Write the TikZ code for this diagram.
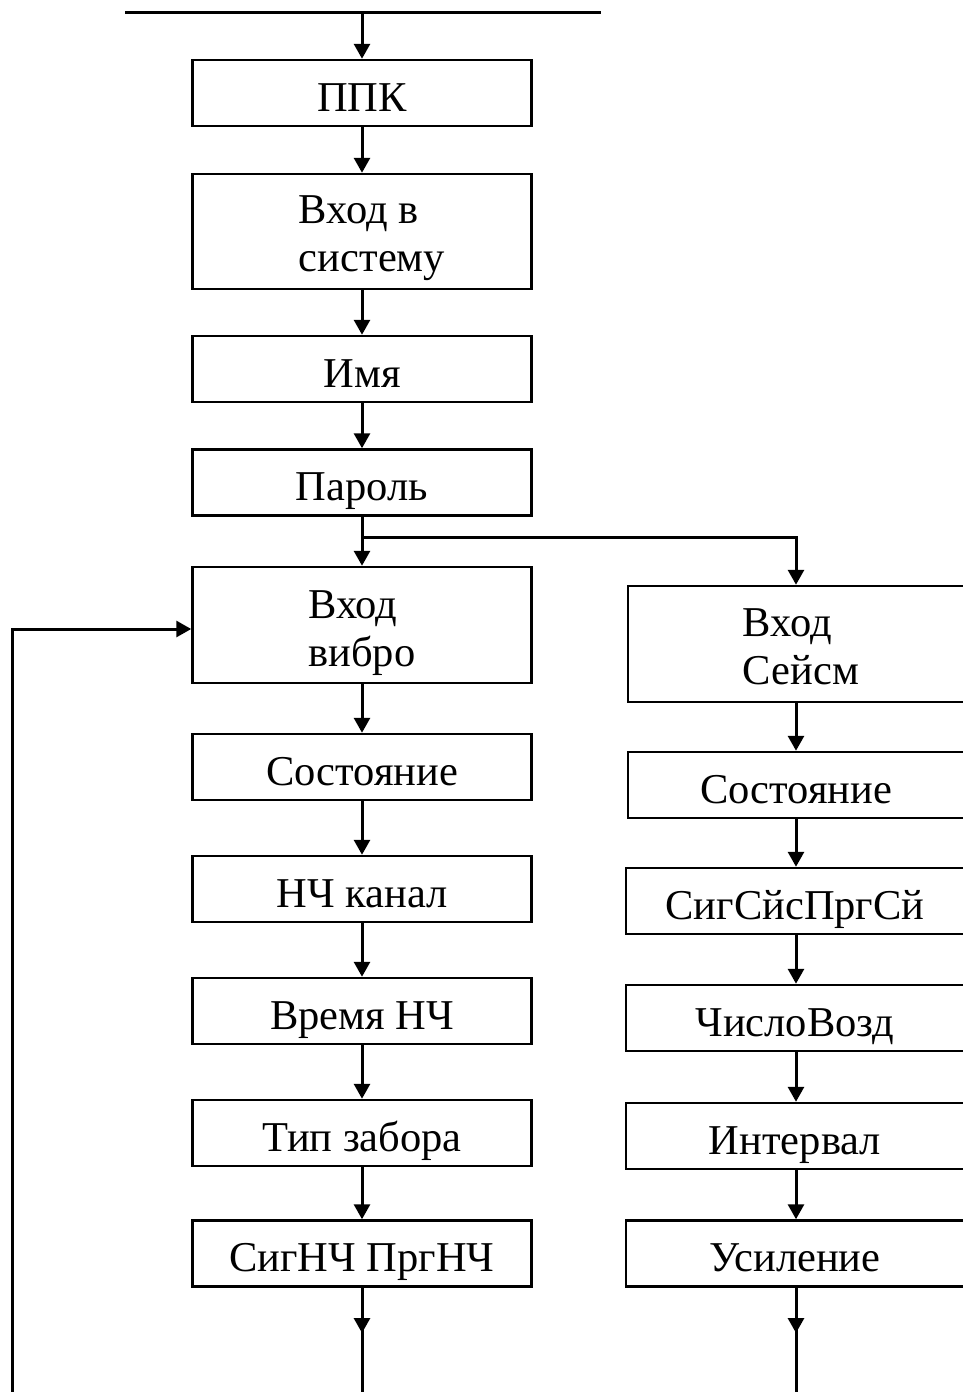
\documentclass[tikz,border=0pt]{standalone}
\usepackage{fontspec}
\setmainfont{Liberation Serif}
\usetikzlibrary{arrows.meta}
\begin{document}
\begin{tikzpicture}[x=1pt,y=-1pt,
  box/.style={draw, line width=2.5pt, inner sep=0pt,
    font=\fontsize{42.5}{48}\selectfont, text height=36pt, text depth=0pt},
  lbox/.style={box, minimum width=339pt, minimum height=66pt},
  rbox/.style={box, minimum width=338pt, minimum height=66pt},
  conn/.style={line width=3pt},
  arr/.style={conn, -{Triangle[length=15pt,width=16pt]}}]
\useasboundingbox (0,0) rectangle (962,1392);
% left column
\node[lbox] (ppk) at (362,93) {ППК};
\node[lbox, minimum height=115pt, text height=79pt] (login) at (362,231.5)
  {\hspace*{20pt}\begin{tabular}[b]{@{}l@{}}Вход в\\ систему\end{tabular}};
\node[lbox] (name) at (362,369) {Имя};
\node[lbox] (pass) at (362,482.5) {Пароль};
\node[lbox, minimum height=116pt, text height=82pt] (vibro) at (362,625)
  {\begin{tabular}[b]{@{}l@{}}Вход\\ вибро\end{tabular}};
\node[lbox] (st1) at (362,767) {Состояние};
\node[lbox] (lf) at (362,889) {НЧ канал};
\node[lbox] (tlf) at (362,1011) {Время НЧ};
\node[lbox] (fence) at (362,1133) {Тип забора};
\node[lbox] (sig1) at (362,1253.5) {СигНЧ ПргНЧ};
% right column
\node[rbox, minimum width=336pt, minimum height=116pt, text height=80pt] (seism) at (796,644)
  {\hspace*{10pt}\begin{tabular}[b]{@{}l@{}}Вход\\ Сейсм\end{tabular}};
\node[rbox, minimum width=336pt] (st2) at (796,785) {Состояние};
\node[rbox] (sig2) at (795,901) {СигСйсПргСй};
\node[rbox] (num) at (795,1018) {ЧислоВозд};
\node[rbox] (intv) at (795,1136) {Интервал};
\node[rbox] (gain) at (795,1253.5) {Усиление};
% coordinates
\coordinate (tl) at (125,12);
\coordinate (tr) at (601,12);
\coordinate (tm) at (362,12);
\coordinate (br) at (362,537);
\coordinate (brr) at (796,537);
\coordinate (la) at (362,1333);
\coordinate (lb) at (362,1392);
\coordinate (ra) at (796,1333);
\coordinate (rb) at (796,1392);
\coordinate (fb0) at (12,1392);
\coordinate (fb1) at (12,629);
% connectors
\draw[conn] (tl) -- (tr);
\draw[arr] (tm) -- (ppk.north);
\draw[arr] (ppk.south) -- (login.north);
\draw[arr] (login.south) -- (name.north);
\draw[arr] (name.south) -- (pass.north);
\draw[conn] (pass.south) -- (br);
\draw[arr] (br) -- (vibro.north);
\draw[arr] (br) -- (brr) -- (seism.north);
\draw[arr] (vibro.south) -- (st1.north);
\draw[arr] (st1.south) -- (lf.north);
\draw[arr] (lf.south) -- (tlf.north);
\draw[arr] (tlf.south) -- (fence.north);
\draw[arr] (fence.south) -- (sig1.north);
\draw[conn] (sig1.south) -- (lb);
\draw[arr] (sig1.south) -- (la);
\draw[arr] (seism.south) -- (st2.north);
\draw[arr] (st2.south) -- (st2.south |- sig2.north);
\draw[arr] (st2.south |- sig2.south) -- (st2.south |- num.north);
\draw[arr] (st2.south |- num.south) -- (st2.south |- intv.north);
\draw[arr] (st2.south |- intv.south) -- (st2.south |- gain.north);
\draw[conn] (st2.south |- gain.south) -- (rb);
\draw[arr] (st2.south |- gain.south) -- (ra);
\draw[arr] (fb0) -- (fb1) -- (fb1 -| vibro.west);
\end{tikzpicture}
\end{document}
